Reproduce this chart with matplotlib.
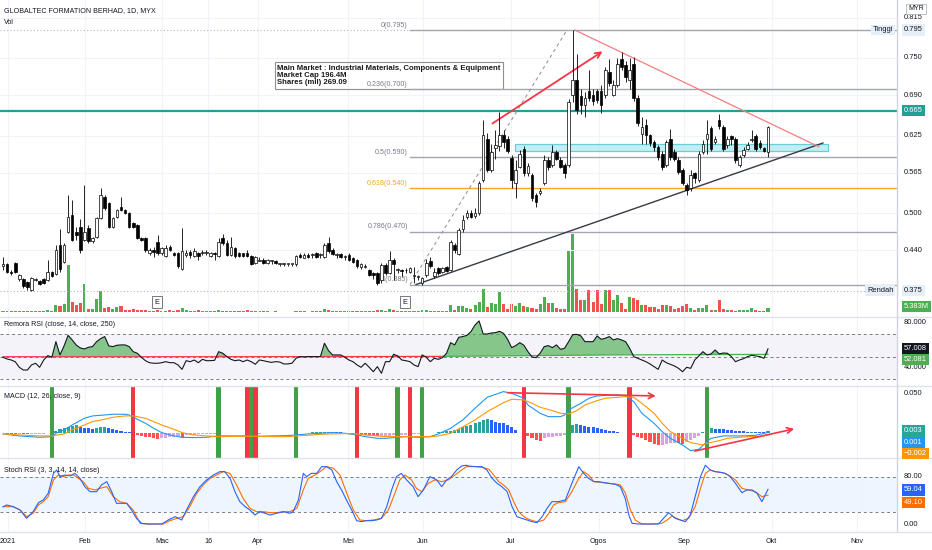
import numpy as np
import matplotlib.pyplot as plt
import matplotlib.transforms as mtransforms
from matplotlib.patches import Rectangle

plt.rcParams['font.family'] = ['Liberation Sans', 'DejaVu Sans']

# ---------------- data (prices in thousandths of MYR) ----------------
opens = [415,418,405,420,394,394,389,376,392,390, 394,392,405,402,449,422,470,497,470,478,
         457,476,455,462,492,526,516,478,494,510, 505,500,484,481,460,460,436,441,454,436,
         431,446,436,436,410,433,438,431,436,436, 436,431,436,431,460,452,433,444,436,436,
         436,431,420,423,425,420,423,423,418,418, 418,418,418,433,428,433,433,436,433,430,
         452,441,433,435,430,433,428,425,413,413, 409,404,404,392,417,404,425,409,409,408,
         406,399,398,388,400,423,399,411,406,413, 409,449,435,474,494,500,495,500,554,619,
         569,605,608,626,620,589,548,575,604,564, 561,529,533,548,586,578,599,586,577,578,
         690,714,688,674,696,690,696,696,690,728, 690,706,749,738,714,741,685,628,642,626,
         615,607,596,578,620,599,586,569,545,540, 564,553,599,619,637,615,650,639,610,624,
         620,578,594,604,618,624,613,605,599]
highs = [430,420,408,422,402,396,390,398,396,392, 395,425,407,448,475,452,529,521,478,490,
         545,481,462,494,541,530,518,494,507,526, 507,502,486,483,462,462,444,446,465,446,
         449,448,438,438,476,441,441,444,438,441, 441,438,438,460,467,456,462,446,438,436,
         440,433,431,430,428,427,425,425,418,420, 418,418,433,436,436,436,436,438,436,452,
         462,444,436,436,433,436,430,426,420,418, 410,405,406,420,420,439,428,412,410,412,
         413,414,400,397,426,430,412,413,414,415, 456,452,476,497,505,505,508,552,650,629,
         611,634,663,634,624,594,586,602,608,580, 565,532,540,594,590,610,602,590,580,684,
         795,757,700,695,730,700,700,706,736,749, 715,750,760,745,750,752,690,655,652,628,
         618,610,600,618,635,604,590,572,548,570, 567,600,618,650,640,625,660,642,625,626,
         623,594,607,615,634,628,618,607,641]
lows = [408,403,400,403,390,380,376,374,390,385, 386,390,398,400,405,420,468,455,457,436,
        455,452,452,460,490,505,476,476,492,503, 498,476,476,458,455,438,433,430,433,433,
        430,439,431,412,408,430,428,430,425,433, 433,430,425,430,449,431,431,428,430,430,
        430,417,418,423,418,418,418,418,415,415, 415,415,415,428,428,428,428,428,428,428,
        436,433,428,428,425,423,420,412,410,412, 399,394,385,387,400,402,392,404,399,403,
        404,387,392,385,398,412,396,400,404,405, 407,436,433,470,490,492,492,497,550,566,
        566,588,600,605,597,540,524,572,560,560, 520,510,530,545,570,575,585,572,556,575,
        679,660,660,655,680,675,678,662,685,705, 688,703,730,712,700,680,641,612,612,608,
        600,585,570,575,586,584,563,545,530,535, 548,550,596,596,600,612,635,600,605,610,
        580,575,590,602,615,600,604,598,590]
closes = [418,405,403,405,400,383,381,395,392,386, 387,405,399,441,410,449,494,457,465,441,
          470,455,460,492,529,508,478,492,505,505, 500,478,478,460,457,441,441,438,436,444,
          444,441,433,415,439,436,433,439,431,436, 436,436,435,454,452,433,446,431,431,431,
          431,418,430,423,420,425,423,420,418,418, 418,418,431,430,433,430,433,430,433,449,
          439,435,433,430,430,425,422,415,418,413, 401,400,387,417,404,425,418,409,407,408,
          411,399,398,395,419,415,406,403,411,407, 454,440,473,489,500,494,501,549,626,569,
          599,610,626,615,600,553,569,596,564,576, 524,518,536,586,575,599,588,575,564,679,
          714,666,674,685,686,680,682,674,730,709, 706,741,736,720,730,685,645,639,626,613,
          607,591,575,615,591,588,567,548,537,561, 556,596,612,628,604,620,640,604,620,619,
          586,591,602,610,618,604,607,600,639]
# volume, millions of shares
volume = [1.2,0.8,1.5,1.0,0.9,1.4,1.1,2.0,0.8,1.0, 1.2,2.2,1.5,9.4,8.1,10.8,63.3,13.5,9.4,12.1,
          37.7,4.0,4.0,17.5,28.3,5.4,6.7,4.0,6.7,8.1, 2.7,2.7,4.0,2.7,2.7,2.7,1.4,1.4,2.7,1.4,
          1.4,2.7,1.4,2.7,5.4,2.7,1.4,1.4,2.7,1.4, 1.4,1.0,1.2,2.7,1.4,2.0,1.8,1.2,0.9,1.0,
          2.7,1.5,1.2,0.8,1.0,0.9,0.7,0.8,0.5,0.5, 0.6,0.5,1.5,1.0,0.8,0.7,0.9,0.8,0.9,4.0,
          2.7,1.4,1.0,0.9,1.4,1.2,2.0,1.4,1.0,1.2, 2.0,1.8,2.7,2.7,1.8,4.0,2.7,1.4,1.2,1.4,
          1.0,2.0,1.4,2.7,2.7,2.0,1.4,1.4,1.8,2.0, 9.4,2.7,8.1,8.1,5.4,4.0,9.4,13.5,31.0,6.7,
          12.1,10.8,27.0,10.8,4.0,10.8,8.1,12.1,8.1,6.7, 5.4,4.0,10.8,20.2,12.1,12.1,5.4,4.0,4.0,83.5,
          105.0,31.0,16.2,16.2,29.6,13.5,29.6,10.8,29.6,29.6, 16.2,22.9,12.1,4.0,20.2,18.9,16.2,9.4,9.4,6.7,
          6.7,4.0,9.4,9.4,8.1,4.0,5.4,8.1,10.8,5.4, 2.7,5.4,5.4,9.4,2.7,2.7,16.2,4.0,2.7,2.7,
          1.4,2.7,2.7,2.7,5.4,2.7,1.4,1.4,5.383]

# Remora RSI
rsi = [49.5,48.0,47.1,45.6,40.6,38.2,38.2,42.7,44.2,40.6, 47.1,51.0,49.5,63.4,51.6,59.6,69.0,64.9,60.4,57.8,
       56.9,58.4,59.0,63.4,66.1,67.9,59.6,59.0,60.2,60.5, 60.5,59.0,54.5,53.1,49.5,46.5,44.7,44.2,44.2,44.7,
       45.6,44.7,44.7,42.7,38.8,46.5,45.6,47.1,44.7,47.7, 46.5,46.5,46.8,54.5,53.1,50.1,47.7,46.5,47.1,45.6,
       47.1,45.6,43.3,47.1,46.5,45.6,45.0,45.6,45.3,43.6, 43.6,44.2,48.6,50.1,49.8,50.1,50.1,50.1,50.1,62.0,
       55.4,51.6,51.6,51.6,49.5,47.1,45.6,42.7,40.6,44.2, 40.6,36.7,41.2,35.3,45.6,45.6,52.2,50.7,47.1,46.5,
       45.6,42.7,41.2,51.6,49.5,45.6,48.6,47.7,49.2,53.1, 62.5,60.5,67.3,67.9,69.0,72.3,78.2,81.8,70.2,70.2,
       71.1,71.4,72.6,70.8,65.5,58.1,59.9,62.5,60.2,54.5, 49.8,49.2,53.1,59.0,59.9,58.1,60.5,56.6,57.5,63.4,
       69.6,69.9,68.5,63.4,63.4,63.4,68.5,65.5,66.4,67.9, 64.9,66.1,64.9,63.4,57.5,50.1,48.6,47.1,45.6,43.6,
       41.2,38.8,47.1,44.7,43.3,41.8,39.7,36.7,40.6,39.7, 47.1,50.7,54.5,51.6,52.5,56.0,52.5,53.3,53.1,50.1,
       45.6,47.1,48.3,50.1,51.3,50.7,50.1,48.6,57.008]
rsi_base_x = [0, 40, 80, 108, 130, 150, 170, 188]
rsi_base = [50.0, 50.0, 50.1, 50.3, 51.0, 51.6, 51.9, 52.081]
base_split = 108

# MACD (values in thousandths)
macd_x = [0,4,9,12,13,15,17,20,22,25, 27,30,31,32,35,37,39,42,44,47, 50,53,57,60,63,66,70,72,75,78,
          81,84,87,89,92,94,97,99,102,105, 107,110,113,116,119,123,125,128,129,132,
          134,137,138,139,142,144,146,149,151,153, 155,157,160,162,164,167,169,171,173,174,
          177,179,182,185,188]
macd = [-0.8,-3.3,-5.0,-4.2,0.0,4.2,10.4,18.8,21.7,22.9, 23.8,23.8,22.9,20.0,12.5,6.3,0.8,-3.3,-5.0,-5.4,
        -5.0,-3.3,-3.3,-3.3,-3.8,-3.3,-2.9,-2.1,-0.8,0.0, 0.8,0.0,-2.1,-4.2,-6.3,-6.3,-5.0,-4.2,-5.0,-4.2,
        -0.8,6.3,16.7,31.3,45.0,52.1,50.0,43.8,35.4,25.0, 20.8,20.8,22.9,29.2,37.5,43.8,46.7,47.5,47.9,46.7,
        39.6,25.0,12.5,2.1,-6.3,-14.6,-21.7,-20.0,-10.4,-6.3, -3.3,-3.3,-3.3,-2.5,1.0]
signal_x = [0,4,9,12,15,17,20,22,25,27, 30,32,35,37,39,42,44,47,50,53, 57,60,63,66,70,72,75,78,81,84,
            87,89,92,94,99,105,107,110,113,116, 119,123,125,128,130,132,135,137,139,141,
            143,146,148,151,153,155,157,160,162,164, 167,169,172,173,176,178,181,183,186,188]
signal = [-0.8,-2.1,-3.3,-3.3,-0.8,4.2,10.4,14.6,17.5,20.0, 21.7,21.7,18.8,14.6,10.4,5.0,0.8,-2.1,-3.3,-4.2,
          -3.8,-3.8,-3.8,-4.2,-4.2,-3.3,-2.5,-1.3,-0.8,-0.4, -0.8,-2.1,-3.3,-4.2,-4.2,-4.2,-3.3,0.0,8.0,16.7,
          27.1,38.3,42.5,41.7,37.5,32.5,28.3,25.0,24.2,28.3, 35.4,40.8,43.8,45.0,45.8,45.0,37.5,25.0,12.5,2.1,
          -6.3,-11.7,-14.6,-12.5,-9.2,-6.3,-5.0,-4.2,-3.8,-2.0]
hist = [0.2,-0.3,-0.8,-1.2,-1.0,-1.3,-1.5,-1.0,-0.8,-0.5, -0.3,0.2,1.0,3.3,5.0,6.3,8.3,9.6,10.4,7.5,
        6.7,6.3,5.8,6.7,8.3,8.3,7.1,5.0,3.8,2.9, 2.1,1.7,0.0,-1.7,-2.9,-4.2,-5.0,-5.8,-6.7,-6.3,
        -5.8,-5.0,-4.6,-3.8,-5.8,-2.5,-2.1,-1.7,-1.3,-0.8, -0.8,-0.4,-0.4,0.4,0.8,0.4,0.2,0.3,0.5,0.3,
        -0.2,-0.4,-0.8,-0.4,-0.2,0.2,0.4,0.5,0.6,0.8, 0.6,0.3,0.2,0.4,0.6,0.8,1.2,1.5,1.7,2.1,
        2.1,1.9,1.7,1.0,0.6,0.4,-0.4,-0.8,-1.3,-1.9, -2.5,-2.9,-3.3,-3.3,-3.3,-2.9,-2.5,-2.3,-2.1,-1.9,
        -1.7,-1.5,-1.3,-0.8,-0.2,0.4,0.8,1.2,1.7,2.5, 3.3,4.2,5.8,8.3,9.6,10.8,12.5,14.6,16.7,17.5,
        16.7,14.6,13.3,12.5,10.4,7.5,4.2,0.8,-0.8,-3.3, -6.3,-8.3,-9.6,-6.3,-5.0,-4.2,-3.3,-3.3,-2.5,3.3,
        10.4,11.7,10.4,9.2,8.3,7.5,6.3,5.0,4.2,3.3, 2.5,1.7,0.8,0.4,-0.8,-2.1,-4.2,-6.3,-8.8,-11.0,
        -13.0,-15.0,-14.2,-13.3,-12.5,-11.7,-12.5,-13.0,-10.8,-8.3, -5.8,-2.9,1.2,5.0,6.3,5.8,5.4,5.0,4.2,3.8,
        3.3,2.9,2.5,2.1,2.1,1.7,1.5,1.3,3.0]
buy_bars = [12, 53, 61, 72, 97, 103, 139, 173]
sell_bars = [32, 60, 62, 87, 100, 128, 154]

# Stoch RSI
k_x = [0,0.9,2.5,4.2,5.8,7.4,8.7,9.9,11.1,12.4, 13.2,14.0,15.2,16.5,17.7,18.9,20.1,21.4,23.0,24.2,
       25.5,26.7,27.9,29.2,30.4,31.6,32.8,34.1,35.7,37.3, 39.0,40.6,42.3,43.9,45.1,46.8,48.4,50.0,51.7,53.3,
       54.5,55.8,57.0,58.2,59.5,60.7,61.9,63.1,64.4,65.6, 67.2,68.9,70.5,71.3,72.6,73.8,74.6,75.8,77.1,78.3,
       79.5,80.8,82.0,83.2,84.4,85.7,86.9,88.1,89.3,90.6, 91.8,93.0,94.3,95.5,96.7,97.9,99.2,100.8,102.0,103.3,
       104.9,106.6,107.8,109.0,110.2,111.5,112.7,113.9,114.4,116.1, 117.7,118.9,120.2,121.4,122.6,123.9,125.1,126.3,127.5,128.8,
       130.0,131.2,132.5,133.7,134.9,136.5,138.2,139.8,141.5,142.7, 143.9,145.2,146.4,147.6,148.8,150.5,151.7,152.9,153.8,154.6,
       156.2,158.7,161.1,162.3,163.6,165.2,166.4,167.7,168.9,170.1, 171.4,172.6,173.8,175.0,176.3,177.5,178.7,180.0,181.6,182.8,
       184.1,185.3,186.5,188]
k_val = [29.5,32.4,29.5,23.8,9.6,21.0,36.3,40.9,52.2,86.2, 91.9,80.6,83.4,81.7,86.2,77.7,63.5,55.0,55.0,66.4,
         72.1,55.0,35.2,35.2,35.2,23.8,9.6,1.1,0,0, 0,6.8,12.5,6.8,23.8,46.5,63.5,74.9,83.4,89.1,
         89.1,77.7,55.0,38.0,29.5,23.8,15.3,21.0,18.2,15.3, 18.2,21.0,18.2,21.0,40.9,86.2,80.6,86.2,86.2,97.6,
         97.6,91.9,72.1,57.9,40.9,23.8,5.7,4.0,5.7,5.7, 6.8,9.6,29.5,57.9,80.6,86.2,74.9,63.5,46.5,57.9,
         80.6,74.9,63.5,74.9,80.6,91.9,98.7,100,98.7,97.6, 97.6,91.9,77.7,69.2,63.5,55.0,29.5,12.5,9.6,6.8,
         4.0,2.3,12.5,26.7,38.0,38.0,40.9,69.2,97.6,86.2, 77.7,72.1,72.1,70.4,69.2,67.5,63.5,43.7,15.3,1.1,
         0,0,0,9.6,19.3,9.6,6.8,4.0,15.3,46.5, 80.6,100,91.9,89.1,88.0,86.2,80.6,69.2,53.3,57.9,
         57.9,52.2,38.0,59.04]
d_x = [0,0.9,2.5,4.2,5.8,7.4,8.7,9.9,11.1,12.4, 13.6,14.8,16.1,17.3,18.5,19.7,21.0,22.6,23.8,25.5,
       27.1,28.7,30.4,32.0,33.7,35.3,37.8,39.4,41.0,42.7, 44.3,45.9,47.6,49.2,50.9,52.5,54.1,55.8,57.4,59.0,
       60.7,62.3,64.0,65.6,67.2,68.9,70.5,72.2,73.8,75.0, 76.7,77.9,79.5,81.2,82.8,84.8,86.1,87.7,89.3,91.0,
       93.0,94.7,96.3,97.5,98.8,100.4,101.6,102.9,104.5,106.1, 107.8,109.4,111.1,112.7,113.9,
       114.4,116.1,117.7,119.4,120.6,121.8,123.0,124.3,125.5,126.7, 128.0,129.2,130.4,131.6,132.9,134.1,135.3,136.5,138.2,139.8,
       141.5,142.7,143.9,145.2,146.4,147.6,148.8,150.5,151.7,152.9, 154.2,155.4,157.0,159.5,161.9,163.2,164.4,165.6,166.9,168.5,
       170.1,171.4,172.6,173.8,175.0,176.7,178.3,180.0,181.6,183.2, 184.9,186.5,188]
d_val = [29.5,29.5,29.5,23.8,12.5,18.2,32.4,38.0,46.5,74.9, 83.4,80.6,83.4,83.4,77.7,72.1,60.7,57.9,60.7,63.5,
         46.5,38.0,35.2,23.8,1.1,0,0,0,5.7,9.6, 12.5,29.5,52.2,66.4,77.7,83.4,89.1,86.2,66.4,43.7,
         26.7,21.0,21.0,19.3,19.3,21.0,21.0,26.7,57.9,77.7, 83.4,89.1,97.6,94.8,83.4,46.5,23.8,6.8,5.7,6.8,
         9.6,23.8,52.2,74.9,83.4,74.9,60.7,55.0,69.2,74.9, 72.1,74.9,83.4,91.9,97.6,
         97.6,97.6,96.5,93.1,83.4,72.1,66.4,57.9,38.0,21.0, 12.5,8.0,5.1,4.0,6.8,18.2,32.4,36.3,38.0,55.0,
         77.7,89.1,83.4,72.1,71.0,70.4,69.2,68.1,66.4,53.3, 23.8,6.8,0,0,1.1,6.8,13.6,9.6,5.7,9.6,
         29.5,60.7,86.2,91.9,89.1,87.4,83.4,74.9,60.7,57.9, 55.0,46.5,49.1]

month_pos = [1.2, 20.1, 39.1, 50.4, 62.7, 84.8, 103.2, 124.8, 146.4, 167.3, 188.9, 209.8]
month_lbl = ['2021', 'Feb', 'Mac', '16', 'Apr', 'Mei', 'Jun', 'Jul', 'Ogos', 'Sep', 'Okt', 'Nov']
price_ticks = [0.815, 0.750, 0.690, 0.625, 0.565, 0.500, 0.440]
fib_levels = [0.795, 0.700, 0.590, 0.540, 0.470, 0.385]
fib_names = ['0', '0.236', '0.5', '0.618', '0.786', '1']
fib_start = 100
resist = 0.665
swing_hi, swing_lo = 0.795, 0.375
info_lines = ['Main Market : Industrial Materials, Components & Equipment',
              'Market Cap 196.4M', 'Shares (mil) 269.09']
earn_bars = [37.8, 98.8]

# ---------------- figure ----------------
W, H, RX = 932, 550, 897
fig = plt.figure(figsize=(W / 100, H / 100), dpi=100)


def rect(top, bot):
    return [0, 1 - bot / H, RX / W, (bot - top) / H]


ax_vol = fig.add_axes(rect(0, 317))
ax = fig.add_axes(rect(0, 317), sharex=ax_vol)
ax.patch.set_alpha(0)
ax_rsi = fig.add_axes(rect(317, 386), sharex=ax_vol)
ax_macd = fig.add_axes(rect(386, 458), sharex=ax_vol)
ax_sto = fig.add_axes(rect(458, 532), sharex=ax_vol)

for a in (ax_vol, ax, ax_rsi, ax_macd, ax_sto):
    for s in a.spines.values():
        s.set_visible(False)
    a.tick_params(left=False, right=False, labelleft=False, bottom=False, labelbottom=False)
ax_vol.set_xlim(-0.74, 219.7)
ax_vol.set_xticks(month_pos)
for a in (ax, ax_rsi, ax_macd, ax_sto):
    a.grid(axis='x', color='#f0f3fa', lw=0.8, zorder=0)
    a.set_axisbelow(True)
ax_sto.set_xticklabels(month_lbl)
ax_sto.tick_params(axis='x', labelbottom=True, length=0, pad=4, labelsize=5.2, labelcolor='#131722')

FS = 5.4
TFS = 5.1
TXT = '#131722'
GRAY = '#787b86'

# ---------------- main panel ----------------
o = np.array(opens) / 1000
h = np.array(highs) / 1000
l = np.array(lows) / 1000
c = np.array(closes) / 1000
x = np.arange(len(o))
ax.set_ylim(0.3328, 0.8433)

for pt in price_ticks:
    ax.axhline(pt, color='#f0f3fa', lw=0.8, zorder=0)
ax.axhline(swing_hi, color='#b2b5be', lw=0.8, ls=(0, (1, 2)), zorder=1)
ax.axhline(swing_lo, color='#b2b5be', lw=0.8, ls=(0, (1, 2)), zorder=1)
ax.axhline(resist, color='#22a095', lw=1.6, zorder=2)

# volume
up = c >= o
vcol = np.where(up, '#4caf50', '#ef5350')
ax_vol.set_ylim(-6.7, 420)
ax_vol.bar(x, volume, width=0.75, color=vcol, zorder=1)

# info box (drawn under the fib levels, as in the original)
ax.text(277 / RX, 1 - 64.5 / 317, '\n'.join(info_lines), transform=ax.transAxes, fontsize=5.55,
        fontweight='bold', color='#1a1a1a', va='top', ha='left', linespacing=1.08, zorder=1,
        bbox=dict(boxstyle='square,pad=0.32', fc='none', ec='#8f8f8f', lw=0.8))

# fib retracement
for lv, nm in zip(fib_levels, fib_names):
    col = '#f5a623' if nm == '0.618' else '#a3a6af'
    ax.plot([fib_start, 219.7], [lv, lv], color=col, lw=1.0, zorder=2)
    ax.annotate(f'{nm}({lv:.3f})', (fib_start, lv), xytext=(-1.5, 1), textcoords='offset points',
                ha='right', va='bottom', fontsize=5.1, color=col if nm == '0.618' else GRAY, zorder=3)
ax.plot([fib_start, 138.6], [0.385, 0.795], color='#9598a1', lw=0.8, ls=(0, (3, 3)), zorder=2)

# zone box and trend lines
ax.add_patch(Rectangle((125.8, 0.600), 202.7 - 125.8, 0.011, fc='#b2ebf2', ec='#4dc3cf',
                       lw=0.9, alpha=0.8, zorder=2))
ax.plot([101.5, 201.5], [0.385, 0.613], color='#363a45', lw=1.0, zorder=4)
ax.plot([140.5, 200.5], [0.795, 0.607], color='#f77c80', lw=0.9, zorder=4)
ax.annotate('', xy=(147.9, 0.763), xytext=(119.7, 0.642),
            arrowprops=dict(arrowstyle='->', color='#f23645', lw=1.3, mutation_scale=10), zorder=5)

# candles
ax.vlines(x, l, h, color='#000000', lw=0.6, zorder=5)
body_lo = np.minimum(o, c)
body_h = np.maximum(np.abs(c - o), 0.0012)
ax.bar(x, body_h, bottom=body_lo, width=0.64, color=np.where(up, '#ffffff', '#000000'),
       edgecolor='#000000', linewidth=0.5, zorder=6)

# texts
ax.text(4 / RX, 1 - 11 / 317, 'GLOBALTEC FORMATION BERHAD, 1D, MYX', transform=ax.transAxes,
        fontsize=TFS, color=TXT, va='center')
ax.text(4 / RX, 1 - 23 / 317, 'Vol', transform=ax.transAxes, fontsize=TFS, color=TXT, va='center')
for eb in earn_bars:
    ax.text(eb, 0.047, 'E', transform=mtransforms.blended_transform_factory(ax.transData, ax.transAxes),
            fontsize=5.3, ha='center', va='center', color=TXT, zorder=7,
            bbox=dict(boxstyle='square,pad=0.35', fc='white', ec='#5d606b', lw=0.6))
blend = mtransforms.blended_transform_factory(ax.transAxes, ax.transData)
ax.text(0.996, swing_hi, 'Tinggi', transform=blend, fontsize=FS, color=TXT, ha='right', va='center',
        zorder=7, bbox=dict(boxstyle='square,pad=0.25', fc='#e6eef8', ec='none'))
ax.text(0.996, swing_lo, 'Rendah', transform=blend, fontsize=FS, color=TXT, ha='right', va='center',
        zorder=7, bbox=dict(boxstyle='square,pad=0.25', fc='#e6eef8', ec='none'))

# ---------------- Remora RSI ----------------
ax_rsi.set_ylim(24.0, 85.3)
ax_rsi.axhspan(30, 70, color='#7e57c2', alpha=0.07, lw=0, zorder=0)
for lv in (70, 50, 30):
    ax_rsi.axhline(lv, color=GRAY, lw=0.7, ls=(0, (3, 3)), zorder=1)
rsi_a = np.array(rsi)
base_at = np.interp(x, rsi_base_x, rsi_base)
ax_rsi.fill_between(x, rsi_a, base_at, where=rsi_a >= base_at, interpolate=True,
                    color='#4caf50', alpha=0.65, lw=0, zorder=2)
ax_rsi.plot(x[:base_split + 1], base_at[:base_split + 1], color='#f23645', lw=0.9, zorder=3)
ax_rsi.plot(x[base_split:], base_at[base_split:], color='#4caf50', lw=0.9, zorder=3)
ax_rsi.plot(x, rsi_a, color='#131722', lw=0.8, zorder=4)
ax_rsi.text(4 / RX, 1 - 7 / 69, 'Remora RSI (close, 14, close, 250)', transform=ax_rsi.transAxes,
            fontsize=TFS, color=TXT, va='center')

# ---------------- MACD ----------------
ax_macd.set_ylim(-0.0309, 0.0591)
hv = np.array(hist) / 1000
prev = np.concatenate([[0], hv[:-1]])
hcol = np.where(hv >= 0, np.where(hv >= prev, '#26a69a', '#2962ff'),
                np.where(hv < prev, '#ff5252', '#d7a3e0'))
ax_macd.bar(x, hv, width=0.75, color=hcol, zorder=2)
for b in buy_bars:
    ax_macd.axvspan(b - 0.55, b + 0.55, color='#43a047', lw=0, zorder=3)
for b in sell_bars:
    ax_macd.axvspan(b - 0.55, b + 0.55, color='#f23645', lw=0, zorder=3)
ax_macd.plot(macd_x, np.array(macd) / 1000, color='#2196f3', lw=0.8, zorder=4)
ax_macd.plot(signal_x, np.array(signal) / 1000, color='#ff9800', lw=0.8, zorder=4)
ax_macd.annotate('', xy=(161.1, 0.0466), xytext=(123.3, 0.0508),
                 arrowprops=dict(arrowstyle='->', color='#f23645', lw=1.2, mutation_scale=10), zorder=5)
ax_macd.annotate('', xy=(195.1, 0.0063), xytext=(169.3, -0.023),
                 arrowprops=dict(arrowstyle='->', color='#f23645', lw=1.2, mutation_scale=10), zorder=5)
ax_macd.text(4 / RX, 1 - 11 / 72, 'MACD (12, 26, close, 9)', transform=ax_macd.transAxes,
             fontsize=TFS, color=TXT, va='center', zorder=6)

# ---------------- Stoch RSI ----------------
ax_sto.set_ylim(-13.6, 112.3)
ax_sto.axhspan(20, 80, color='#2196f3', alpha=0.08, lw=0, zorder=0)
for lv in (80, 20):
    ax_sto.axhline(lv, color=GRAY, lw=0.7, ls=(0, (3, 3)), zorder=1)
ax_sto.plot(k_x, k_val, color='#2962ff', lw=0.8, zorder=3)
ax_sto.plot(d_x, d_val, color='#ff6d00', lw=0.8, zorder=2)
ax_sto.text(4 / RX, 1 - 12 / 74, 'Stoch RSI (3, 3, 14, 14, close)', transform=ax_sto.transAxes,
            fontsize=TFS, color=TXT, va='center')

# ---------------- separators and right scale ----------------
for py in (317, 386, 458, 532):
    fig.add_artist(plt.Line2D([0, 1], [1 - py / H, 1 - py / H], color='#e0e3eb', lw=1))
fig.add_artist(plt.Line2D([RX / W, RX / W], [1 - 532 / H, 1], color='#d1d4dc', lw=1))


def rlabel(a, val, txt, fc=None, tc=TXT):
    tr = mtransforms.blended_transform_factory(fig.transFigure, a.transData)
    kw = {}
    if fc:
        kw['bbox'] = dict(boxstyle='square,pad=0.28', fc=fc, ec='none')
    fig.text(904 / W, val, txt, transform=tr, fontsize=FS, color=tc, ha='left', va='center', **kw)


for pt in price_ticks:
    rlabel(ax, pt, f'{pt:.3f}')
rlabel(ax, swing_hi, '0.795', fc='#e6eef8')
rlabel(ax, resist, '0.665', fc='#22a095', tc='white')
rlabel(ax, swing_lo, '0.375', fc='#e6eef8')
rlabel(ax_vol, volume[-1] + 2, f'{volume[-1]:.3f}M', fc='#4caf50', tc='white')
fig.text(916 / W, 1 - 9 / H, 'MYR', fontsize=5, color=TXT, ha='center', va='center',
         bbox=dict(boxstyle='square,pad=0.25', fc='white', ec='#b2b5be', lw=0.6))

rlabel(ax_rsi, 80, '80.000')
rlabel(ax_rsi, 40, '40.000')
rlabel(ax_rsi, rsi[-1], f'{rsi[-1]:.3f}', fc='#131722', tc='white')
rlabel(ax_rsi, 47.3, f'{rsi_base[-1]:.3f}', fc='#4caf50', tc='white')

rlabel(ax_macd, 0.050, '0.050')
rlabel(ax_macd, 0.0029, f'{hist[-1] / 1000:.3f}', fc='#26a69a', tc='white')
rlabel(ax_macd, -0.0120, f'{macd[-1] / 1000:.3f}', fc='#2196f3', tc='white')
rlabel(ax_macd, -0.0255, '\u2212' + f'{abs(signal[-1]) / 1000:.3f}', fc='#ff9800', tc='white')

rlabel(ax_sto, 80, '80.00')
rlabel(ax_sto, 0, '0.00')
rlabel(ax_sto, 57.9, f'{k_val[-1]:.2f}', fc='#2962ff', tc='white')
rlabel(ax_sto, 37.0, f'{d_val[-1]:.2f}', fc='#ff6d00', tc='white')

fig.savefig('out.png', dpi=100, facecolor='white')
